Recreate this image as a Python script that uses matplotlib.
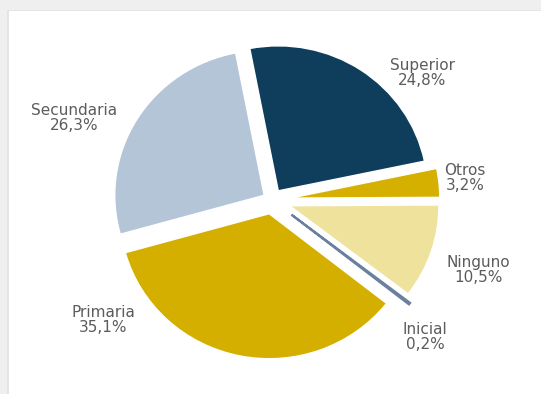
import matplotlib
matplotlib.use("Agg")
import matplotlib.pyplot as plt
from matplotlib.patches import Rectangle

# Education level distribution
categories = ["Superior", "Otros", "Ninguno", "Inicial", "Primaria", "Secundaria"]
shares = [24.8, 3.2, 10.5, 0.2, 35.1, 26.3]
colors = ["#0f3d5c", "#d6b000", "#efe29c", "#6b7f9e", "#d4af00", "#b3c5d7"]

W, H = 541, 394
SX = 1.03  # slight horizontal widening of the chart area

fig = plt.figure(figsize=(W / 100, H / 100), dpi=100)
fig.patch.set_facecolor("white")

# grey frame strips along the top and left edges
fig.patches.append(Rectangle((0, 1 - 10 / H), 1, 10 / H, transform=fig.transFigure,
                             facecolor="#efefef", edgecolor="none", zorder=0))
fig.patches.append(Rectangle((0, 0), 8 / W, 1, transform=fig.transFigure,
                             facecolor="#efefef", edgecolor="none", zorder=0))
fig.patches.append(Rectangle((8 / W, 1 - 11 / H), 1, 1.5 / H, transform=fig.transFigure,
                             facecolor="#e4e4e4", edgecolor="none", zorder=0))
fig.patches.append(Rectangle((7 / W, 0), 1.5 / W, 1 - 10 / H, transform=fig.transFigure,
                             facecolor="#e4e4e4", edgecolor="none", zorder=0))

ax = fig.add_axes([0, 0, 1, 1])
ax.patch.set_alpha(0)

explode = [11, 18, 18, 24, 14, 9]
wedges, _ = ax.pie(shares, colors=colors, startangle=101, counterclock=False,
                   center=(272 / SX, H - 200), radius=145, explode=explode, frame=True,
                   wedgeprops=dict(edgecolor="white", linewidth=1))
# the thin "Inicial" sliver is outlined in its own colour so it stays visible
wedges[3].set_edgecolor(colors[3])
wedges[3].set_linewidth(1.6)

ax.set_xlim(0, W / SX)
ax.set_ylim(0, H)
ax.set_aspect("auto")
ax.axis("off")

label_pos = [(422, 73), (465, 178), (478, 270), (425, 337), (103, 320), (74, 118)]
for name, val, (x, y) in zip(categories, shares, label_pos):
    txt = f"{name}\n{val:.1f}%".replace(".", ",")
    ax.text(x / SX, H - y, txt, ha="center", va="center", fontsize=11,
            color="#5c5c5c", family="DejaVu Sans", linespacing=1.0)

fig.savefig("out.png", dpi=100)
